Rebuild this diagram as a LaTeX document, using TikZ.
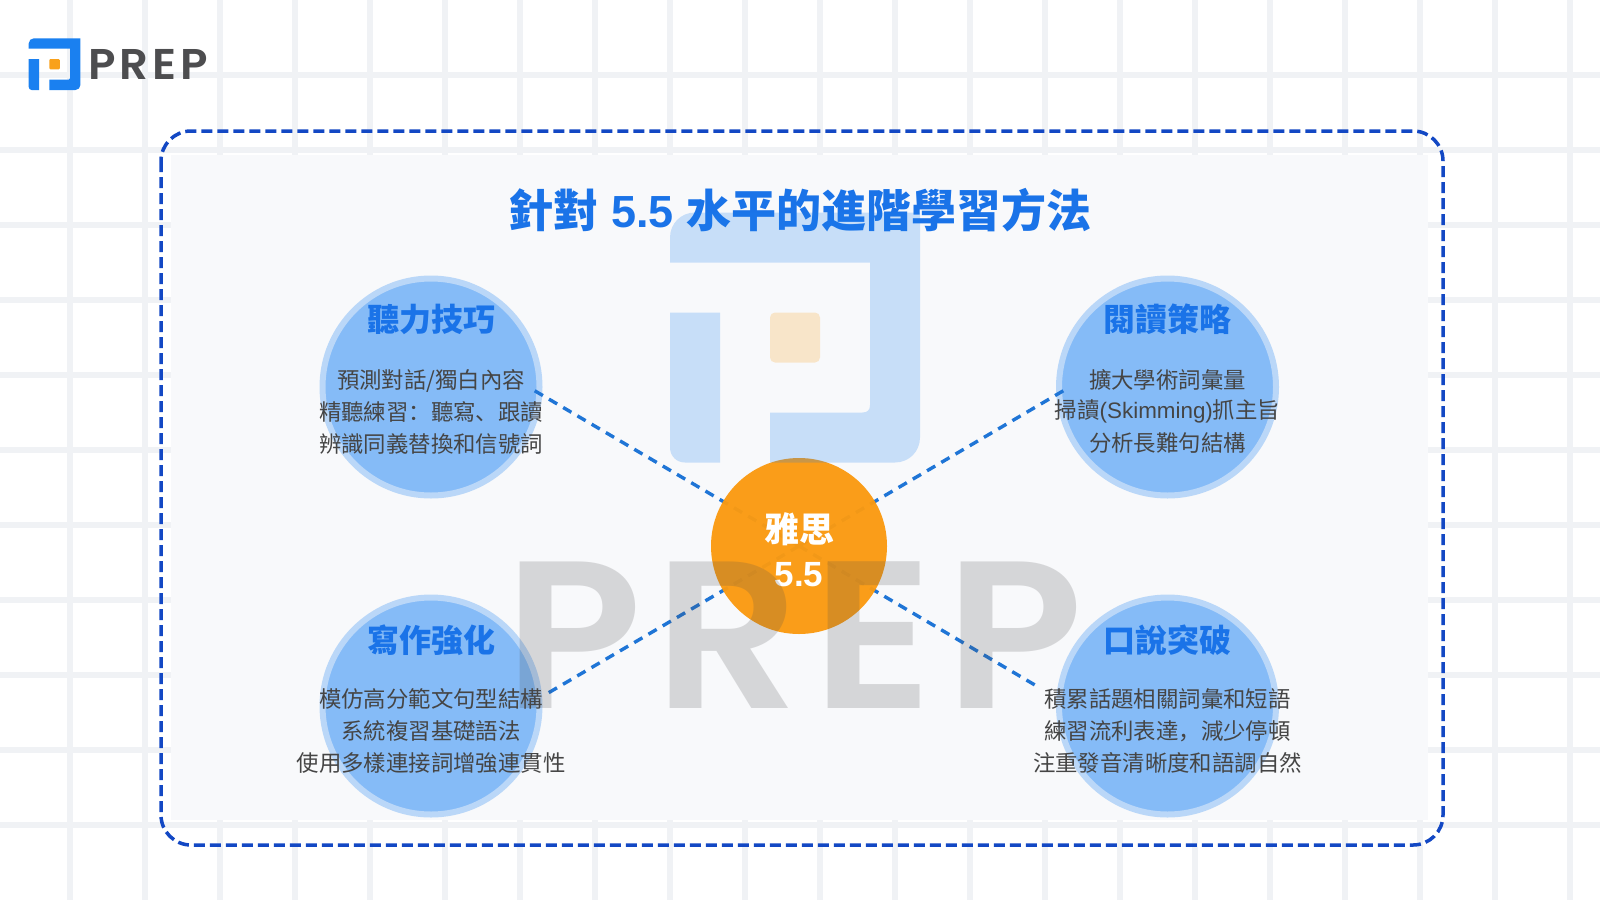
\documentclass[tikz,border=0pt]{standalone}
\usepackage{fontspec}
\setmainfont{Liberation Sans}
\newfontfamily\cjk{Noto Sans CJK SC}
\newfontfamily\wm[LetterSpace=5.5]{Poppins SemiBold}
\newfontfamily\wmsmall[LetterSpace=9]{Poppins SemiBold}
\definecolor{gridc}{HTML}{F0F2F5}
\definecolor{panelc}{HTML}{F8F9FB}
\definecolor{dashc}{HTML}{1348C4}
\definecolor{linkc}{HTML}{1F75D6}
\definecolor{headc}{HTML}{1A73E8}
\definecolor{circc}{HTML}{85BBF7}
\definecolor{ringc}{HTML}{BAD7F8}
\definecolor{bodyc}{HTML}{454545}
\definecolor{orangec}{HTML}{FB9A10}
\definecolor{markb}{HTML}{1A80F0}
\definecolor{marko}{HTML}{F9A11B}
\definecolor{wordc}{HTML}{4D4D4F}
\newcommand{\prepmark}[1]{%
  \fill[markb] (0,1) -- (0,.5) .. controls (0,.22) and (.22,0) .. (.5,0) -- (5,0) -- (5,4.5) .. controls (5,4.78) and (4.78,5) .. (4.5,5) -- (2,5) -- (2,4) -- (3.85,4) .. controls (3.95,4) and (4,3.95) .. (4,3.85) -- (4,1) -- cycle;
  \fill[markb] (0,2) -- (1,2) -- (1,5) -- (.3,5) .. controls (.13,5) and (0,4.87) .. (0,4.7) -- cycle;
  \fill[marko,rounded corners=#1] (2,2) rectangle (3,3);
}
\tikzset{
  topic/.style={circle,draw=ringc,line width=6pt,fill=circc,minimum size=217pt,inner sep=0pt},
  hub/.style={circle,fill=orangec,fill opacity=.96,minimum size=176pt,inner sep=0pt},
  link/.style={draw=linkc,line width=3.4pt,dash pattern=on 9.5pt off 7pt},
  head/.style={text=headc,font=\cjk\bfseries\fontsize{32}{36}\selectfont,inner sep=0pt,anchor=center},
  body/.style={text=bodyc,font=\cjk\fontsize{22.4}{27}\selectfont,inner sep=0pt,anchor=center},
  hubtext/.style={text=white,font=\bfseries\fontsize{35}{40}\selectfont,inner sep=0pt,anchor=center},
}
\begin{document}
\begin{tikzpicture}[x=1pt,y=-1pt]
\useasboundingbox (0,0) rectangle (1600,900);
\fill[white] (0,0) rectangle (1600,900);
% background grid
\foreach \gx in {0,...,20} \fill[gridc] ({69.5+75*\gx-3},0) rectangle ({69.5+75*\gx+3},900);
\foreach \gy in {1,...,11} \fill[gridc] (0,{75*\gy-3}) rectangle (1600,{75*\gy+3});
% panel
\fill[panelc] (171,155) rectangle (1428,820);
\draw[dashc,line width=3.5pt,dash pattern=on 11pt off 5pt,rounded corners=30pt] (161,131) rectangle (1443,845);
% circles
\node[topic] (tl) at (431,387) {};
\node[topic] (tr) at (1167.5,387) {};
\node[topic] (bl) at (431,706) {};
\node[topic] (br) at (1167.5,706) {};
% connector ends
\coordinate (endtl) at (530,388);
\coordinate (endtr) at (1068,388);
\coordinate (endbl) at (543,696);
\coordinate (endbr) at (1040,688);
\coordinate (hubpt) at (799,546);
\draw[link] (hubpt) -- (endtl);
\draw[link] (hubpt) -- (endtr);
\draw[link] (hubpt) -- (endbl);
\draw[link] (hubpt) -- (endbr);
\node[hub] (hub) at (799,546) {};
% texts
\node[text=headc,font=\bfseries\fontsize{45}{50}\selectfont,inner sep=0pt] (title) at (800,210) {{\cjk 針對} 5.5 {\cjk 水平的進階學習方法}};
\node[hubtext] (hub1) at (799,529) {{\cjk 雅思}};
\node[hubtext] (hub2) at (799,575) {5.5};

\node[head] (h1) at (431,319) {聽力技巧};
\node[body] (a1) at (431,381) {預測對話/獨白內容};
\node[body] (a2) at (431,411.5) {精聽練習：聽寫、跟讀};
\node[body] (a3) at (431,443.5) {辨識同義替換和信號詞};

\node[head] (h2) at (1167.5,319) {閱讀策略};
\node[body] (b1) at (1167.5,380) {擴大學術詞彙量};
\node[body] (b2) at (1167.5,411.5) {掃讀{\fontspec{Liberation Sans}(Skimming)}抓主旨};
\node[body] (b3) at (1167.5,443.5) {分析長難句結構};

\node[head] (h3) at (431,640) {寫作強化};
\node[body] (c1) at (431,699) {模仿高分範文句型結構};
\node[body] (c2) at (431,731) {系統複習基礎語法};
\node[body] (c3) at (431,763) {使用多樣連接詞增強連貫性};

\node[head] (h4) at (1167.5,640) {口說突破};
\node[body] (d1) at (1167.5,699) {積累話題相關詞彙和短語};
\node[body] (d2) at (1167.5,731) {練習流利表達，減少停頓};
\node[body] (d3) at (1167.5,763) {注重發音清晰度和語調自然};
% watermark
\begin{scope}[shift={(670,212.5)},x=50pt,y=-50pt,opacity=.22]
\prepmark{5pt}
\end{scope}
\node[text=wordc,text opacity=.2,font=\wm\fontsize{210}{210}\selectfont,inner sep=0pt,anchor=base,xscale=1.08] (wmword) at (794,708) {PREP};
% small logo
\begin{scope}[shift={(28.7,38.3)},x=10.35pt,y=-10.35pt]
\prepmark{1pt}
\end{scope}
\node[text=wordc,font=\wmsmall\fontsize{43}{43}\selectfont,inner sep=0pt,anchor=base west,xscale=1.05] (logoword) at (88,79) {PREP};
\end{tikzpicture}
\end{document}
